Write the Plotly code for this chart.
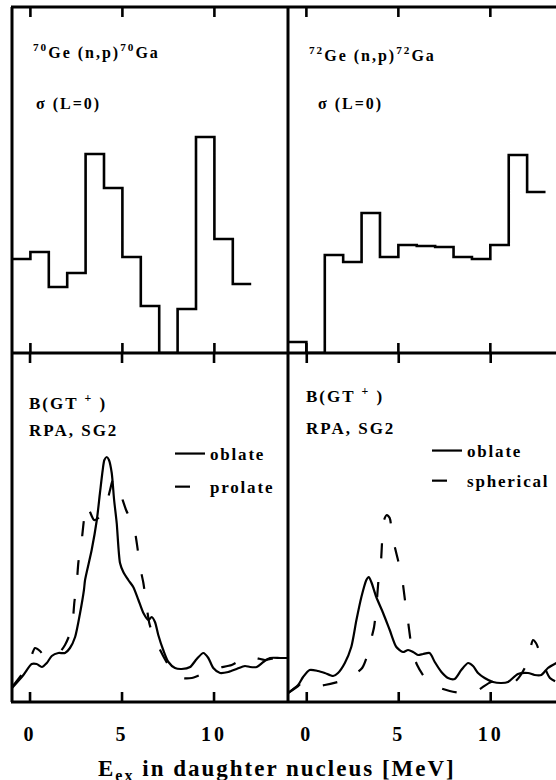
import plotly.graph_objects as go

# ---------------------------------------------------------------------------
# Data
# ---------------------------------------------------------------------------
# (n,p) L=0 strength per 1 MeV bin (arbitrary units); edges in MeV
ge70_edges = [-1, 0, 1, 2, 3, 4, 5, 6, 7, 8, 9, 10, 11, 12]
ge70_sigma = [0.94, 1.01, 0.66, 0.80, 1.99, 1.65, 0.96, 0.47, 0.0, 0.44, 2.16, 1.14, 0.69]

ge72_edges = [-1, 0, 1, 2, 3, 4, 5, 6, 7, 8, 9, 10, 11, 12, 13]
ge72_sigma = [0.11, 0.0, 0.98, 0.91, 1.40, 0.96, 1.08, 1.07, 1.06, 0.96, 0.94, 1.08, 1.98, 1.61]

# RPA (SG2) B(GT+) strength distributions, folded (arbitrary units)
ge70_oblate_e = [-0.98, -0.36, 0.09, 0.36, 0.64, 0.91, 1.18, 1.54, 1.90, 2.17, 2.45, 2.72,
                 2.93, 2.99, 3.35, 3.63, 3.80, 3.95, 4.04, 4.17, 4.29, 4.44, 4.57, 4.71,
                 4.89, 5.07, 5.34, 5.61, 5.89, 6.16, 6.43, 6.61, 6.79, 6.97, 7.24, 7.52,
                 7.88, 8.24, 8.70, 9.06, 9.42, 9.69, 9.96, 10.33, 10.78, 11.23, 11.68,
                 11.96, 12.32, 12.68, 13.04, 13.59, 14.02]
ge70_oblate_b = [0.14, 0.27, 0.38, 0.38, 0.35, 0.39, 0.46, 0.49, 0.49, 0.54, 0.65, 0.89,
                 1.12, 1.22, 1.52, 1.82, 2.09, 2.32, 2.42, 2.45, 2.42, 2.29, 2.02, 1.79,
                 1.39, 1.30, 1.22, 1.15, 1.02, 0.89, 0.82, 0.85, 0.80, 0.67, 0.52, 0.40,
                 0.34, 0.33, 0.35, 0.43, 0.49, 0.44, 0.34, 0.29, 0.30, 0.33, 0.36,
                 0.35, 0.35, 0.40, 0.44, 0.44, 0.44]

ge70_prolate_e = [-0.98, -0.36, 0.0, 0.27, 0.54, 0.82, 1.09, 1.52, 1.90, 2.27, 2.41, 2.54,
                  2.63, 2.81, 2.93, 3.08, 3.26, 3.48, 3.71, 4.17, 4.35, 4.51, 4.71, 4.98,
                  5.22, 5.43, 5.61, 5.76, 5.87, 5.98, 6.16, 6.34, 6.48, 6.63, 6.85, 7.07,
                  7.52, 7.88, 8.26, 8.79, 9.60, 10.22, 10.96, 11.78, 12.28, 12.77, 13.32, 14.02]
ge70_prolate_b = [0.15, 0.30, 0.42, 0.54, 0.51, 0.45, 0.46, 0.48, 0.57, 0.74, 1.00, 1.19,
                  1.40, 1.62, 1.82, 1.97, 1.90, 1.82, 1.84, 2.00, 2.12, 2.22, 2.20, 2.05,
                  1.92, 1.84, 1.80, 1.64, 1.50, 1.35, 1.19, 0.95, 0.79, 0.70, 0.62, 0.52,
                  0.37, 0.29, 0.24, 0.24, 0.30, 0.34, 0.37, 0.45, 0.44, 0.42, 0.44, 0.44]

ge72_oblate_e = [-1.02, -0.47, -0.20, 0.16, 0.61, 0.98, 1.43, 1.70, 2.07, 2.42, 2.70, 2.97,
                 3.24, 3.37, 3.51, 3.78, 4.15, 4.51, 4.87, 5.23, 5.51, 5.78, 6.05, 6.32,
                 6.68, 6.96, 7.32, 7.68, 8.04, 8.40, 8.77, 9.04, 9.31, 9.67, 10.13, 10.58,
                 10.94, 11.48, 12.03, 12.39, 12.75, 13.11, 13.57]
ge72_oblate_b = [0.09, 0.17, 0.25, 0.32, 0.31, 0.29, 0.26, 0.29, 0.39, 0.55, 0.82, 1.05,
                 1.22, 1.25, 1.20, 1.05, 0.89, 0.72, 0.55, 0.50, 0.52, 0.50, 0.47, 0.48,
                 0.49, 0.40, 0.30, 0.24, 0.23, 0.32, 0.39, 0.36, 0.29, 0.24, 0.20, 0.19,
                 0.20, 0.28, 0.29, 0.27, 0.27, 0.34, 0.39]

ge72_spherical_e = [-1.02, -0.47, -0.20, 0.40, 0.98, 1.88, 2.46, 3.01, 3.33, 3.49, 3.66,
                    3.78, 3.91, 4.02, 4.11, 4.20, 4.35, 4.51, 4.64, 4.80, 4.96, 5.18, 5.36,
                    5.51, 5.61, 5.72, 6.00, 6.43, 6.86, 7.77, 8.44, 9.22, 10.03, 10.67,
                    11.30, 11.85, 12.08, 12.30, 12.46, 12.66, 12.95, 13.22, 13.57]
ge72_spherical_b = [0.09, 0.16, 0.20, 0.16, 0.17, 0.21, 0.26, 0.34, 0.49, 0.62, 0.75,
                    0.94, 1.24, 1.37, 1.65, 1.82, 1.87, 1.84, 1.67, 1.54, 1.42, 1.24, 0.99,
                    0.80, 0.66, 0.52, 0.37, 0.24, 0.17, 0.11, 0.09, 0.11, 0.20, 0.19,
                    0.20, 0.34, 0.47, 0.62, 0.59, 0.50, 0.34, 0.24, 0.20]

energy_ticks = [0, 5, 10]
energy_tick_text = ["0", "5", "10"]

# ---------------------------------------------------------------------------
# Geometry (pixels of a 556 x 780 page)
# ---------------------------------------------------------------------------
W, H = 556, 780
LEFT, MID_X = 12, 288
TOP, MID_Y, BOTTOM = 7, 353, 702
TICK_LEN = 10


def fx(p):
    return p / W


def fy(p):
    return 1 - p / H


FONT = "Liberation Serif"
DASH = "15px,24px"


def spaced(text, ls):
    return f'<span style="letter-spacing:{ls}px">{text}</span>'


fig = go.Figure()


def histogram(edges, values, xa, ya):
    fig.add_trace(go.Scatter(
        x=edges, y=values + [values[-1]], mode="lines", line_shape="hv",
        line=dict(color="black", width=2.6), xaxis=xa, yaxis=ya, showlegend=False,
        hoverinfo="skip"))


histogram(ge70_edges, ge70_sigma, "x", "y")
histogram(ge72_edges, ge72_sigma, "x2", "y2")


def curve(e, b, name, dash, xa, ya, legend, group):
    fig.add_trace(go.Scatter(
        x=e, y=b, mode="lines", name=spaced(name, 1.8), line_shape="spline",
        line=dict(color="black", width=2.2, dash=dash, smoothing=0.7),
        xaxis=xa, yaxis=ya, legend=legend, legendgroup=group))


curve(ge70_oblate_e, ge70_oblate_b, "oblate", "solid", "x3", "y3", "legend", "a")
curve(ge70_prolate_e, ge70_prolate_b, "prolate", DASH, "x3", "y3", "legend", "b")
curve(ge72_oblate_e, ge72_oblate_b, "oblate", "solid", "x4", "y4", "legend2", "c")
curve(ge72_spherical_e, ge72_spherical_b, "spherical", DASH, "x4", "y4", "legend2", "d")

x_left = [fx(LEFT), fx(MID_X)]
x_right = [fx(MID_X), 1.0]
y_top = [fy(MID_Y), fy(TOP)]
y_bot = [fy(BOTTOM), fy(MID_Y)]

# Energy ranges of the four panels
range_tl = [-1, 14]
range_tr = [-1, 13.57]
range_bl = [-0.98, 14.02]
range_br = [-1.02, 13.55]

xbase = dict(showline=False, ticks="", tickvals=energy_ticks, showgrid=False,
             zeroline=False, fixedrange=True)
xlabels = dict(showticklabels=True, ticktext=[spaced(t, 3) for t in energy_tick_text],
               tickfont=dict(family=FONT, size=20, color="black", weight="bold"),
               ticklabelstandoff=18)
ybase = dict(showline=False, ticks="", showticklabels=False, showgrid=False,
             zeroline=False, fixedrange=True)

legend_font = dict(family=FONT, size=17, color="black", weight="bold")

fig.update_layout(
    width=W, height=H, margin=dict(l=0, r=0, t=0, b=0),
    paper_bgcolor="white", plot_bgcolor="white",
    xaxis=dict(xbase, domain=x_left, range=range_tl, anchor="y", showticklabels=False),
    yaxis=dict(ybase, domain=y_top, range=[0, 3.46], anchor="x"),
    xaxis2=dict(xbase, domain=x_right, range=range_tr, anchor="y2", showticklabels=False),
    yaxis2=dict(ybase, domain=y_top, range=[0, 3.46], anchor="x2"),
    xaxis3=dict(xbase, **xlabels, domain=x_left, range=range_bl, anchor="y3"),
    yaxis3=dict(ybase, domain=y_bot, range=[0, 3.49], anchor="x3"),
    xaxis4=dict(xbase, **xlabels, domain=x_right, range=range_br, anchor="y4"),
    yaxis4=dict(ybase, domain=y_bot, range=[0, 3.49], anchor="x4"),
    legend=dict(x=fx(170), y=fy(436), xanchor="left", yanchor="top",
                bgcolor="rgba(0,0,0,0)", font=legend_font,
                traceorder="grouped", tracegroupgap=8),
    legend2=dict(x=fx(427), y=fy(433), xanchor="left", yanchor="top",
                 bgcolor="rgba(0,0,0,0)", font=legend_font,
                 traceorder="grouped", tracegroupgap=5),
    showlegend=True,
)

# Panel frame
frame = dict(type="line", xref="paper", yref="paper", line=dict(color="black", width=3))
for yy in (TOP, MID_Y, BOTTOM):
    fig.add_shape(frame, x0=fx(LEFT - 1), x1=1.0, y0=fy(yy), y1=fy(yy))
for xx in (LEFT, MID_X):
    fig.add_shape(frame, x0=fx(xx), x1=fx(xx), y0=fy(TOP), y1=fy(BOTTOM))

# Inward tick marks on the top and bottom edge of every panel, at the tick
# energies mapped through each panel's energy range and domain
panels = [(x_left, range_tl, TOP, MID_Y), (x_right, range_tr, TOP, MID_Y),
          (x_left, range_bl, MID_Y, BOTTOM), (x_right, range_br, MID_Y, BOTTOM)]
tick_line = dict(type="line", xref="paper", yref="paper", line=dict(color="black", width=2.6))
for dom, rng, y_hi, y_lo in panels:
    for t in energy_ticks:
        xp = dom[0] + (t - rng[0]) / (rng[1] - rng[0]) * (dom[1] - dom[0])
        fig.add_shape(tick_line, x0=xp, x1=xp, y0=fy(y_hi), y1=fy(y_hi + TICK_LEN))
        fig.add_shape(tick_line, x0=xp, x1=xp, y0=fy(y_lo), y1=fy(y_lo - TICK_LEN))

# Panel labels
label_font = dict(family=FONT, size=16, color="black", weight="bold")
big_font = dict(family=FONT, size=17, color="black", weight="bold")


def label(text, x, y, font, ls):
    fig.add_annotation(text=spaced(text, ls), x=fx(x), y=fy(y), xref="paper", yref="paper",
                       xanchor="left", yanchor="middle", showarrow=False, font=font)


label("<sup>70</sup>Ge (n,p)<sup>70</sup>Ga", 31, 52, label_font, 2)
label("σ (L=0)", 34, 104, label_font, 2)
label("<sup>72</sup>Ge (n,p)<sup>72</sup>Ga", 307, 55, label_font, 2)
label("σ (L=0)", 316, 104, label_font, 2)
label("B(GT <sup>+</sup> )", 27, 402, big_font, 2)
label("RPA, SG2", 27, 430, big_font, 2)
label("B(GT <sup>+</sup> )", 304, 395, big_font, 2)
label("RPA, SG2", 304, 428, big_font, 2)

fig.add_annotation(text=spaced("E<sub>ex</sub> in daughter nucleus [MeV]", 2),
                   x=fx(277), y=fy(770), xref="paper", yref="paper", xanchor="center",
                   yanchor="middle", showarrow=False,
                   font=dict(family=FONT, size=23, color="black", weight="bold"))

fig.write_html("out.html")
